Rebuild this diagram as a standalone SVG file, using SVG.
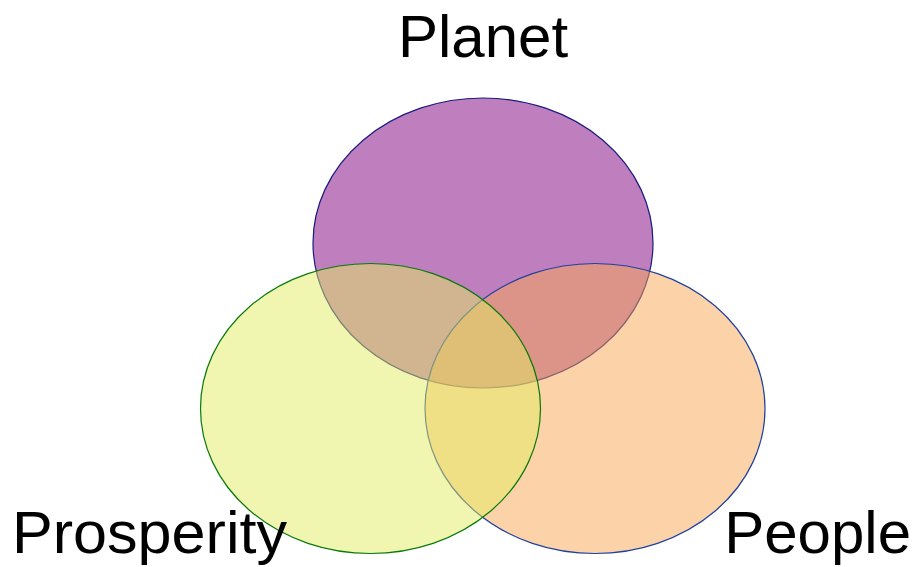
<svg xmlns="http://www.w3.org/2000/svg" width="915" height="567" viewBox="0 0 915 567">
<style>
.c{stroke-width:1.2;fill-opacity:0.5}
.t{font-family:"Liberation Sans",Arial,sans-serif;font-size:60px;fill:#000}
</style>
<rect width="915" height="567" fill="#fff"/>
<g id="planet"><ellipse class="c" cx="483" cy="243" rx="170" ry="145" fill="#800080" stroke="#1a1a80"/></g>
<g id="people"><ellipse class="c" cx="595" cy="408.5" rx="170" ry="145" fill="#f9a751" stroke="#2040a0"/></g>
<g id="prosperity"><ellipse class="c" cx="370.5" cy="408.5" rx="170" ry="145" fill="#e1eb61" stroke="#0a7a0a"/></g>
<g id="labels">
<text class="t" x="483" y="57" text-anchor="middle">Planet</text>
<text class="t" x="12" y="553" textLength="275" lengthAdjust="spacingAndGlyphs">Prosperity</text>
<text class="t" x="911" y="553" text-anchor="end">People</text>
</g>
<g id="connectors"></g>
</svg>
